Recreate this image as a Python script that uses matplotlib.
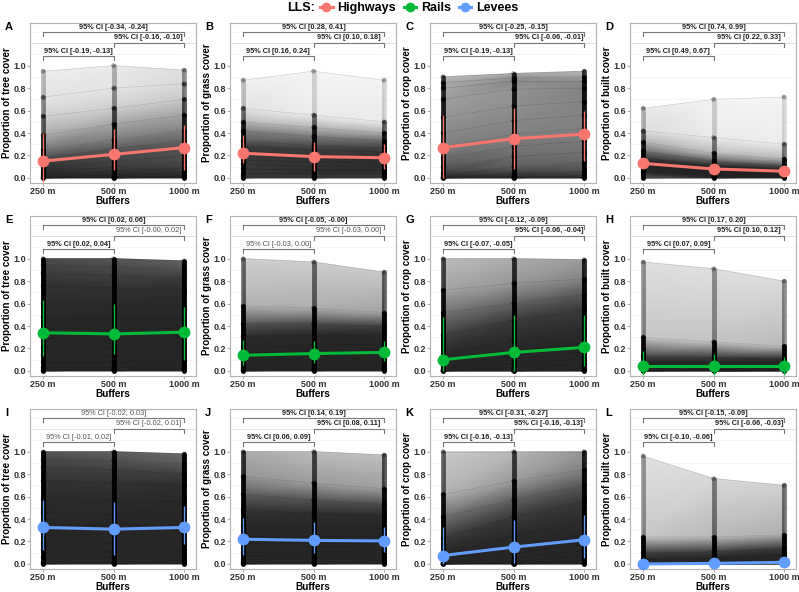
import numpy as np
import matplotlib
matplotlib.use('Agg')
import matplotlib.pyplot as plt
from matplotlib.collections import LineCollection
from matplotlib.colors import LinearSegmentedColormap
from matplotlib.lines import Line2D

plt.rcParams['font.family'] = ['Liberation Sans', 'DejaVu Sans']

# === Data ===
buffers = ['250 m', '500 m', '1000 m']
covers = ['tree', 'grass', 'crop', 'built']
lls_names = ['Highways', 'Rails', 'Levees']
lls_colors = ['#F8766D', '#00BA38', '#619CFF']
letters = list('ABCDEFGHIJKL')

# percentiles of the site values at each buffer (rows: 250, 500, 1000 m)
pct = [0, 5, 10, 20, 30, 40, 50, 60, 70, 80, 90, 95, 98, 100]

hwy_tree = [[0, 0, 0, 0.01, 0.03, 0.06, 0.09, 0.13, 0.18, 0.25, 0.38, 0.55, 0.72, 0.95],
            [0, 0, 0.01, 0.03, 0.06, 0.10, 0.15, 0.20, 0.26, 0.34, 0.48, 0.62, 0.80, 1.0],
            [0, 0.01, 0.02, 0.05, 0.09, 0.14, 0.20, 0.26, 0.33, 0.42, 0.56, 0.70, 0.84, 0.96]]
hwy_grass = [[0, 0.02, 0.04, 0.08, 0.12, 0.16, 0.20, 0.24, 0.28, 0.33, 0.42, 0.50, 0.62, 0.87],
             [0, 0.02, 0.04, 0.07, 0.10, 0.14, 0.17, 0.21, 0.25, 0.29, 0.37, 0.45, 0.56, 0.95],
             [0, 0.02, 0.04, 0.07, 0.10, 0.13, 0.16, 0.19, 0.23, 0.27, 0.33, 0.40, 0.50, 0.87]]
hwy_crop = [[0, 0, 0, 0.01, 0.04, 0.10, 0.18, 0.28, 0.40, 0.54, 0.70, 0.80, 0.85, 0.90],
            [0, 0, 0.01, 0.04, 0.10, 0.19, 0.28, 0.39, 0.51, 0.64, 0.79, 0.86, 0.89, 0.93],
            [0, 0, 0.02, 0.06, 0.14, 0.23, 0.33, 0.44, 0.56, 0.68, 0.80, 0.86, 0.90, 0.95]]
hwy_built = [[0, 0.03, 0.05, 0.07, 0.09, 0.10, 0.11, 0.13, 0.15, 0.18, 0.24, 0.32, 0.42, 0.62],
             [0, 0.01, 0.02, 0.03, 0.04, 0.05, 0.06, 0.07, 0.09, 0.11, 0.15, 0.22, 0.36, 0.70],
             [0, 0.01, 0.01, 0.02, 0.03, 0.04, 0.04, 0.05, 0.06, 0.08, 0.11, 0.17, 0.30, 0.72]]

rail_tree = [[0, 0.01, 0.03, 0.08, 0.14, 0.21, 0.29, 0.38, 0.48, 0.60, 0.76, 0.87, 0.94, 1.0],
             [0, 0.01, 0.03, 0.08, 0.14, 0.21, 0.28, 0.37, 0.47, 0.58, 0.74, 0.85, 0.93, 1.0],
             [0, 0.02, 0.04, 0.09, 0.15, 0.22, 0.29, 0.38, 0.47, 0.58, 0.72, 0.82, 0.90, 0.98]]
rail_grass = [[0, 0.01, 0.02, 0.03, 0.05, 0.07, 0.09, 0.12, 0.16, 0.21, 0.31, 0.42, 0.58, 1.0],
              [0, 0.01, 0.02, 0.04, 0.06, 0.08, 0.11, 0.14, 0.18, 0.23, 0.32, 0.42, 0.56, 0.97],
              [0, 0.02, 0.03, 0.05, 0.07, 0.09, 0.12, 0.15, 0.19, 0.24, 0.32, 0.40, 0.52, 0.88]]
rail_crop = [[0, 0, 0, 0, 0, 0.01, 0.02, 0.04, 0.08, 0.15, 0.32, 0.52, 0.72, 1.0],
             [0, 0, 0, 0, 0.01, 0.03, 0.06, 0.10, 0.17, 0.27, 0.45, 0.60, 0.78, 1.0],
             [0, 0, 0, 0.01, 0.03, 0.06, 0.11, 0.17, 0.25, 0.36, 0.54, 0.68, 0.82, 0.99]]
rail_built = [[0, 0, 0, 0.005, 0.01, 0.015, 0.02, 0.03, 0.04, 0.05, 0.08, 0.13, 0.30, 0.97],
              [0, 0, 0.002, 0.006, 0.01, 0.016, 0.022, 0.03, 0.04, 0.05, 0.08, 0.12, 0.26, 0.91],
              [0, 0.001, 0.004, 0.008, 0.012, 0.018, 0.024, 0.031, 0.04, 0.05, 0.08, 0.11, 0.22, 0.80]]

lev_tree = [[0, 0.01, 0.02, 0.06, 0.12, 0.19, 0.27, 0.36, 0.46, 0.58, 0.74, 0.86, 0.93, 1.0],
            [0, 0.01, 0.02, 0.06, 0.11, 0.18, 0.26, 0.34, 0.44, 0.56, 0.72, 0.84, 0.92, 1.0],
            [0, 0.01, 0.03, 0.07, 0.13, 0.19, 0.27, 0.35, 0.45, 0.56, 0.70, 0.80, 0.89, 0.98]]
lev_grass = [[0, 0.01, 0.02, 0.04, 0.07, 0.10, 0.14, 0.19, 0.25, 0.34, 0.48, 0.62, 0.78, 1.0],
             [0, 0.01, 0.02, 0.05, 0.08, 0.11, 0.15, 0.19, 0.25, 0.33, 0.45, 0.57, 0.72, 1.0],
             [0, 0.01, 0.03, 0.05, 0.08, 0.12, 0.15, 0.19, 0.25, 0.32, 0.43, 0.53, 0.67, 0.97]]
lev_crop = [[0, 0, 0, 0, 0, 0, 0.01, 0.02, 0.04, 0.09, 0.23, 0.42, 0.62, 1.0],
            [0, 0, 0, 0, 0.01, 0.02, 0.05, 0.09, 0.15, 0.25, 0.42, 0.57, 0.74, 1.0],
            [0, 0, 0, 0.02, 0.04, 0.07, 0.12, 0.18, 0.26, 0.38, 0.56, 0.70, 0.84, 1.0]]
lev_built = [[0, 0, 0, 0, 0, 0, 0, 0, 0.002, 0.01, 0.04, 0.10, 0.24, 0.96],
             [0, 0, 0, 0, 0, 0, 0.001, 0.004, 0.01, 0.02, 0.05, 0.11, 0.24, 0.76],
             [0, 0, 0, 0, 0.002, 0.005, 0.01, 0.015, 0.025, 0.04, 0.08, 0.14, 0.26, 0.70]]

# group means and error bars
means = [[0.15, 0.21, 0.27], [0.22, 0.19, 0.18], [0.27, 0.35, 0.39], [0.13, 0.08, 0.06],
         [0.34, 0.33, 0.345], [0.14, 0.155, 0.165], [0.10, 0.165, 0.21], [0.04, 0.04, 0.04],
         [0.325, 0.31, 0.325], [0.22, 0.21, 0.205], [0.075, 0.15, 0.215], [0.0, 0.005, 0.015]]
err_lo = [[-0.04, 0.07, 0.07], [0.13, 0.06, 0.08], [0.0, 0.08, 0.15], [0.09, 0.04, 0.03],
          [0.13, 0.15, 0.10], [0.05, 0.07, 0.09], [0.0, 0.0, 0.04], [-0.04, -0.04, -0.04],
          [0.12, 0.08, 0.18], [0.08, 0.10, 0.11], [0.0, 0.01, 0.05], [0.0, 0.0, 0.0]]
err_hi = [[0.40, 0.44, 0.47], [0.38, 0.32, 0.30], [0.56, 0.62, 0.60], [0.18, 0.12, 0.09],
          [0.63, 0.60, 0.57], [0.28, 0.27, 0.27], [0.48, 0.50, 0.50], [0.18, 0.15, 0.12],
          [0.57, 0.55, 0.52], [0.41, 0.37, 0.33], [0.33, 0.39, 0.44], [0.02, 0.03, 0.04]]

# CI labels for (250 vs 500, 500 vs 1000, 250 vs 1000) and whether shown bold
ci_labels = [['[-0.19, -0.13]', '[-0.16, -0.10]', '[-0.34, -0.24]'],
             ['[0.16, 0.24]', '[0.10, 0.18]', '[0.28, 0.41]'],
             ['[-0.19, -0.13]', '[-0.06, -0.01]', '[-0.25, -0.15]'],
             ['[0.49, 0.67]', '[0.22, 0.33]', '[0.74, 0.99]'],
             ['[0.02, 0.04]', '[-0.00, 0.02]', '[0.02, 0.06]'],
             ['[-0.03, 0.00]', '[-0.03, 0.00]', '[-0.05, -0.00]'],
             ['[-0.07, -0.05]', '[-0.06, -0.04]', '[-0.12, -0.09]'],
             ['[0.07, 0.09]', '[0.10, 0.12]', '[0.17, 0.20]'],
             ['[-0.01, 0.02]', '[-0.02, 0.01]', '[-0.02, 0.03]'],
             ['[0.06, 0.09]', '[0.08, 0.11]', '[0.14, 0.19]'],
             ['[-0.16, -0.13]', '[-0.16, -0.13]', '[-0.31, -0.27]'],
             ['[-0.10, -0.06]', '[-0.06, -0.03]', '[-0.15, -0.09]']]
ci_sig = [[1, 1, 1], [1, 1, 1], [1, 1, 1], [1, 1, 1],
          [1, 0, 1], [0, 0, 1], [1, 1, 1], [1, 1, 1],
          [0, 0, 0], [1, 1, 1], [1, 1, 1], [1, 1, 1]]

site_q = [hwy_tree, hwy_grass, hwy_crop, hwy_built,
          rail_tree, rail_grass, rail_crop, rail_built,
          lev_tree, lev_grass, lev_crop, lev_built]

# darkness of the site lines per LLS row (more sites -> darker)
row_gain = [1.0, 5.2, 5.2]

# opaque grey ramp (gouraud shading ignores alpha)
shade = LinearSegmentedColormap.from_list('shade', ['#FFFFFF', '#262626'])


def draw_sites(ax, q, gain):
    q = np.array(q, dtype=float)
    n = len(pct)
    x = np.arange(1, 4)
    mass = np.diff(pct) / 100.0
    # darkness at every quantile vertex from the local density of sites
    dark = np.zeros((3, n))
    for j in range(3):
        for k in range(n):
            k0, k1 = max(k - 1, 0), min(k + 1, n - 1)
            m = (pct[k1] - pct[k0]) / 100.0
            d = m / max(q[j, k1] - q[j, k0], 0.004)
            dark[j, k] = 1 - np.exp(-gain * d)
    px = np.repeat(x, n).astype(float)
    py = q.ravel()
    tris = []
    for j in range(2):
        for k in range(n - 1):
            a, b = j * n + k, (j + 1) * n + k
            tris.append([a, b, b + 1])
            tris.append([a, b + 1, a + 1])
    ax.tripcolor(px, py, np.array(tris), dark.ravel(), shading='gouraud',
                 cmap=shade, vmin=0, vmax=1, zorder=2)
    for k in range(n):
        ax.plot(x, q[:, k], color='black', alpha=0.15, lw=0.4, zorder=2.5)
    # dots stacked at each buffer
    segs, scol = [], []
    for j in range(3):
        for k in range(n - 1):
            w = q[j, k + 1] - q[j, k]
            d = mass[k] / max(w, 0.004)
            a = 1 - np.exp(-gain * 3 * d)
            segs.append([(x[j], q[j, k]), (x[j], q[j, k + 1])])
            scol.append((0, 0, 0, min(1, a)))
    ax.add_collection(LineCollection(segs, colors=scol, linewidths=3.5, capstyle='round', zorder=3))
    ax.scatter(np.repeat(x, n), q.ravel(), s=12, color='black', alpha=0.3,
               edgecolors='none', zorder=3)


def bracket(ax, x1, x2, y, text, sig):
    tip = 0.035
    ax.plot([x1, x1, x2, x2], [y - tip, y, y, y - tip], color='#777777', lw=0.8,
            zorder=5, clip_on=False)
    ax.text((x1 + x2) / 2, y + 0.012, '95% CI ' + text, ha='center', va='bottom',
            fontsize=5.3, fontweight='bold' if sig else 'normal',
            color='#222222' if sig else '#555555', zorder=6)


W, H = 799, 592
fig = plt.figure(figsize=(W / 100, H / 100), dpi=100)
col_left = [30, 230, 430, 630]
row_top = [23, 216, 409]
ax_w, ax_h = 166, 160

for i in range(12):
    r, c = divmod(i, 4)
    color = lls_colors[r]
    ax = fig.add_axes([col_left[c] / W, 1 - (row_top[r] + ax_h) / H, ax_w / W, ax_h / H])
    ax.set_xlim(0.815, 3.17)
    ax.set_ylim(-0.045, 1.38)
    ax.set_yticks(np.arange(0, 1.01, 0.2))
    ax.set_yticks(np.arange(0.1, 1.31, 0.2), minor=True)
    ax.set_yticklabels(['%.1f' % v for v in np.arange(0, 1.01, 0.2)])
    ax.set_xticks([1, 2, 3])
    ax.set_xticklabels(buffers)
    ax.grid(which='major', color='#DEDEDE', lw=0.6, zorder=0)
    ax.grid(which='minor', axis='y', color='#EFEFEF', lw=0.4, zorder=0)
    ax.axhline(1.2, color='#DEDEDE', lw=0.6, zorder=0)
    ax.set_axisbelow(True)
    for s in ax.spines.values():
        s.set_color('#B3B3B3')
        s.set_linewidth(0.8)
    ax.tick_params(which='major', length=2, color='#B3B3B3', pad=1,
                   labelsize=6.5, labelcolor='#333333')
    ax.tick_params(which='minor', length=0)
    for lab in ax.get_xticklabels() + ax.get_yticklabels():
        lab.set_fontweight('bold')
    ax.set_xlabel('Buffers', fontsize=7.2, fontweight='bold', labelpad=0)
    ax.set_ylabel('Proportion of %s cover' % covers[c], fontsize=7, fontweight='bold', labelpad=1)

    draw_sites(ax, site_q[i], row_gain[r])

    x = np.arange(1, 4)
    ax.vlines(x, err_lo[i], err_hi[i], color=color, lw=1.0, zorder=6)
    ax.plot(x, means[i], color=color, lw=2.2, marker='o', ms=7.5, zorder=7)

    bracket(ax, 1, 2, 1.085, ci_labels[i][0], ci_sig[i][0])
    bracket(ax, 2, 3, 1.205, ci_labels[i][1], ci_sig[i][1])
    bracket(ax, 1, 3, 1.30, ci_labels[i][2], ci_sig[i][2])

    fig.text((col_left[c] - 25) / W, 1 - (row_top[r] + 4) / H, letters[i],
             fontsize=8, fontweight='bold', ha='left', va='center')

# legend at the top
fig.text(287 / W, 1 - 8 / H, 'LLS:', fontsize=9, fontweight='bold', ha='left', va='center')
handles = [Line2D([0], [0], color=col, lw=2.2, marker='o', ms=6) for col in lls_colors]
fig.legend(handles, lls_names, loc='center left', bbox_to_anchor=(320 / W, 1 - 8 / H),
           ncol=3, frameon=False, handlelength=1.0, handletextpad=0.4, columnspacing=0.6,
           prop={'weight': 'bold', 'size': 9}, borderpad=0, borderaxespad=0)

fig.savefig('out.png', dpi=100)
